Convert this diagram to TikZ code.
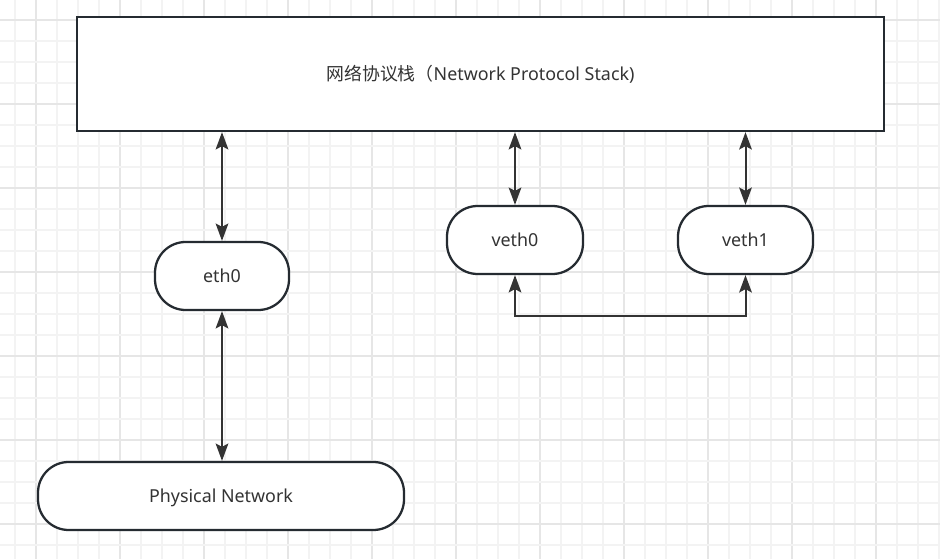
\documentclass[tikz,border=0pt]{standalone}
\usepackage{fontspec}
\setmainfont{Noto Sans}
\newfontfamily\cjk{Noto Sans CJK SC}
\usetikzlibrary{arrows.meta}
\definecolor{boxline}{HTML}{252B31}
\definecolor{arrline}{HTML}{333333}
\definecolor{txt}{HTML}{333333}
\definecolor{gridminor}{HTML}{F3F3F3}
\definecolor{gridmajor}{HTML}{E6E6E6}
\begin{document}
\begin{tikzpicture}[x=0.75pt,y=-0.75pt,
  box/.style={draw=boxline,line width=1.7pt,fill=white,text=txt,font=\fontsize{13.4}{16}\selectfont},
  pill/.style={box,rounded corners=23pt,text depth=0pt},
  link/.style={draw=arrline,line width=1.5pt,{Stealth[length=13pt,width=9.5pt,inset=2.5pt]}-{Stealth[length=13pt,width=9.5pt,inset=2.5pt]}}]
\useasboundingbox (0,0) rectangle (940,559);
\fill[white] (0,0) rectangle (940,559);
% grid
\foreach \k in {0,...,44} {
  \pgfmathtruncatemacro{\m}{mod(\k-1,4)}
  \ifnum\m=0
    \draw[gridmajor,line width=0.9pt] (15+21*\k,0) -- (15+21*\k,559);
  \else
    \draw[gridminor,line width=0.9pt] (15+21*\k,0) -- (15+21*\k,559);
  \fi
}
\foreach \k in {0,...,26} {
  \pgfmathtruncatemacro{\m}{mod(\k,4)}
  \ifnum\m=0
    \draw[gridmajor,line width=0.9pt] (0,20+21*\k) -- (940,20+21*\k);
  \else
    \draw[gridminor,line width=0.9pt] (0,20+21*\k) -- (940,20+21*\k);
  \fi
}
% nodes
\node[box,minimum width=807*0.75pt,minimum height=114*0.75pt,inner sep=0pt] (stack) at (480.5,74)
  {{\cjk 网络协议栈（}Network Protocol Stack)};
\node[pill,minimum width=134*0.75pt,minimum height=68*0.75pt,inner sep=0pt] (eth0) at (222,276) {eth0};
\node[pill,minimum width=136*0.75pt,minimum height=68*0.75pt,inner sep=0pt] (veth0) at (515,240) {veth0};
\node[pill,minimum width=135*0.75pt,minimum height=68*0.75pt,inner sep=0pt] (veth1) at (745.5,240) {veth1};
\node[pill,minimum width=366*0.75pt,minimum height=68*0.75pt,inner sep=0pt] (phys) at (221,496) {Physical Network};
% connectors
\draw[link] (eth0.north) -- (eth0.north |- stack.south);
\draw[link] (eth0.south) -- (phys.north -| eth0.south);
\draw[link] (veth0.north) -- (veth0.north |- stack.south);
\draw[link] (veth1.north) -- (veth1.north |- stack.south);
\coordinate (bend) at (630,316);
\draw[link] (veth0.south) |- (bend) -| (veth1.south);
\end{tikzpicture}
\end{document}
